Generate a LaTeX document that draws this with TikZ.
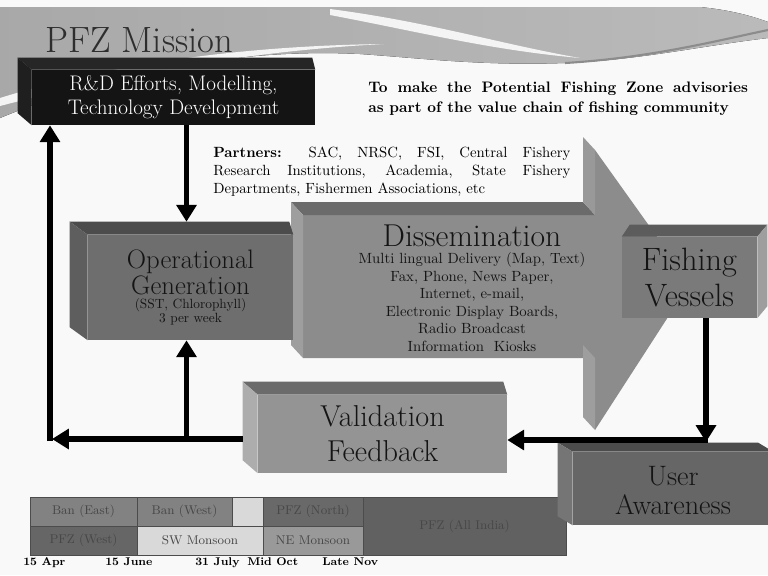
\documentclass[tikz,border=0pt]{standalone}
\usepackage{fontspec}
\usepackage{tikz,xcolor}
\usetikzlibrary{arrows.meta}

\definecolor{pagebg}{gray}{0.975}
\definecolor{swoosh}{gray}{0.70}
\newcommand\pxu{0.025cm}

\begin{document}
\begin{tikzpicture}[x=\pxu,y=-\pxu,
    front/.style={inner sep=0pt,align=center,text=black!92},
    flow/.style={line width=4.2pt,-{Triangle[width=14pt,length=12pt]}},
    cell/.style={draw=black!70,line width=0.5pt,inner sep=0pt,text=black!72,font=\fontsize{9}{10}\selectfont},
    date/.style={anchor=base west,inner sep=0pt,font=\fontsize{8}{9}\selectfont\bfseries}]
    \useasboundingbox[fill=pagebg] (0,0) rectangle (768,575);
    \fill[left color=black!34,right color=black!27] (0,7) -- (700,7) .. controls (730,10) and (752,16) .. (768,22) -- (768,38) .. controls (700,46) and (640,60) .. (565,63) .. controls (480,66) and (420,58) .. (360,54) .. controls (240,48) and (110,72) .. (0,118) -- cycle;
    \fill[white!85!swoosh] (330,9) .. controls (430,22) and (500,44) .. (580,58) .. controls (490,50) and (420,32) .. (330,15) -- cycle;
    \fill[white!85!swoosh] (0,98) .. controls (90,70) and (220,46) .. (384,44) .. controls (230,52) and (100,80) .. (0,106) -- cycle;
    \draw[black!45,line width=1.5pt] (565,63) .. controls (650,58) and (720,40) .. (768,30);
    \node[anchor=base west,inner sep=0pt,text=black!82,font=\fontsize{26}{28}\selectfont] (title) at (45,52) {PFZ Mission};
    \node[anchor=north west,inner sep=0pt,text width=270pt,align=justify,font=\fontsize{10.8}{14}\selectfont\bfseries] (mission) at (368,82) {To make the Potential Fishing Zone advisories\linebreak as part of the value chain of fishing community};
    \node[anchor=north west,inner sep=0pt,text width=254pt,align=justify,font=\fontsize{10.5}{12.8}\selectfont] (partners) at (213,147) {\textbf{Partners:} SAC, NRSC, FSI, Central Fishery\linebreak Research Institutions, Academia, State Fishery\linebreak Departments, Fishermen Associations, etc};
    % dissemination arrow
    \fill[black!45] (303,215) -- (595,215) -- (595,150) -- (690,283) -- (595,430) -- (595,358) -- (303,358) -- cycle;
    \fill[black!58] (291,202) -- (583,202) -- (595,215) -- (303,215) -- cycle;
    \fill[black!40] (583,202) -- (583,137) -- (595,150) -- (595,215) -- cycle;
    \fill[black!38] (291,202) -- (303,215) -- (303,358) -- (291,345) -- cycle;
    \fill[black!38] (583,345) -- (595,358) -- (595,430) -- (583,417) -- cycle;
    \node[front,font=\fontsize{10.5}{12.4}\selectfont] (diss) at (472,288) {{\fontsize{22.5}{24}\selectfont Dissemination}\\Multi lingual Delivery (Map, Text)\\Fax, Phone, News Paper,\\Internet, e-mail,\\Electronic Display Boards,\\Radio Broadcast\\Information~ Kiosks};
    % boxes
    \node[front,fill=black!92,text=white,minimum width=283*\pxu,minimum height=55*\pxu,font=\fontsize{15}{17}\selectfont] (rnd) at (173.5,97.5) {R\&D Efforts, Modelling,\\Technology Development};
    \fill[black!85] (rnd.north west) -- ++(-14,-12) -- ([shift={(-3,-12)}]rnd.north east) -- (rnd.north east) -- cycle;
    \fill[black!88] (rnd.north west) -- ++(-14,-12) -- ([shift={(-14,-12)}]rnd.south west) -- (rnd.south west) -- cycle;
    \node[front,fill=black!57,minimum width=205*\pxu,minimum height=105*\pxu,font=\fontsize{9.5}{10}\selectfont] (oper) at (190.5,287.5) {{\fontsize{19}{21}\selectfont Operational}\\{\fontsize{19}{21}\selectfont Generation}\\(SST, Chlorophyll)\\3 per week};
    \fill[black!70] (oper.north west) -- ++(-18,-13) -- ([shift={(-4,-13)}]oper.north east) -- (oper.north east) -- cycle;
    \fill[black!63] (oper.north west) -- ++(-18,-13) -- ([shift={(-18,-13)}]oper.south west) -- (oper.south west) -- cycle;
    \node[front,fill=black!52,minimum width=135*\pxu,minimum height=81*\pxu,font=\fontsize{23}{25}\selectfont] (fish) at (689.5,277.5) {Fishing\\Vessels};
    \fill[black!64] (fish.north west) -- ++(8,-12) -- ([shift={(10,-12)}]fish.north east) -- (fish.north east) -- cycle;
    \fill[black!38] (fish.north east) -- ++(10,-12) -- ([shift={(10,-12)}]fish.south east) -- (fish.south east) -- cycle;
    % season table
    \node[cell,fill=black!49,minimum width=107*\pxu,minimum height=29*\pxu] (banE) at (83.5,511.5) {Ban (East)};
    \node[cell,fill=black!49,minimum width=95*\pxu,minimum height=29*\pxu] (banW) at (184.5,511.5) {Ban (West)};
    \node[cell,fill=black!15,minimum width=31*\pxu,minimum height=29*\pxu] (gapN) at (247.5,511.5) {};
    \node[cell,fill=black!59,minimum width=100*\pxu,minimum height=29*\pxu] (pfzN) at (313,511.5) {PFZ (North)};
    \node[cell,fill=black!60,minimum width=107*\pxu,minimum height=29*\pxu] (pfzW) at (83.5,540.5) {PFZ (West)};
    \node[cell,fill=black!15,minimum width=126*\pxu,minimum height=29*\pxu] (swmon) at (200,540.5) {SW Monsoon};
    \node[cell,fill=black!40,minimum width=100*\pxu,minimum height=29*\pxu] (nemon) at (313,540.5) {NE Monsoon};
    \node[cell,fill=black!62,minimum width=203*\pxu,minimum height=58*\pxu] (allind) at (464.5,526) {PFZ (All India)};
    \node[date] (dApr) at (23,565) {15 Apr};
    \node[date] (dJun) at (105,565) {15 June};
    \node[date] (dJul) at (195,565) {31 July};
    \node[date] (dOct) at (247,565) {Mid Oct};
    \node[date] (dNov) at (322,565) {Late Nov};
    % feedback boxes
    \node[front,fill=black!42,minimum width=249*\pxu,minimum height=78*\pxu,font=\fontsize{21.5}{24.8}\selectfont] (valid) at (382.5,434) {Validation\\Feedback};
    \fill[black!58] (valid.north west) -- ++(-15,-13) -- ([shift={(-4,-13)}]valid.north east) -- (valid.north east) -- cycle;
    \fill[black!32] (valid.north west) -- ++(-15,-13) -- ([shift={(-15,-13)}]valid.south west) -- (valid.south west) -- cycle;
    \node[front,fill=black!60,minimum width=200*\pxu,minimum height=73*\pxu,font=\fontsize{20}{20.6}\selectfont] (user) at (673,488.5) {\rule{0pt}{16pt}User\\Awareness};
    \fill[black!70] (user.north west) -- ++(-15,-9) -- ([shift={(-15,-9)}]user.north east) -- (user.north east) -- cycle;
    \fill[black!54] (user.north west) -- ++(-15,-9) -- ([shift={(-15,-9)}]user.south west) -- (user.south west) -- cycle;
    % connectors
    \coordinate (fbL) at (52,439);
    \coordinate (fbLv) at (50,441);
    \coordinate (fbR) at (706,440);
    \coordinate (fbRh) at (708,440);
    \coordinate (fbRv) at (706,442);
    \coordinate (opIn) at ([shift={(-4,-13)}]oper.north);
    \coordinate (opOut) at ([shift={(-4,0)}]oper.south);
    \coordinate (vaOut) at ([shift={(-15,5)}]valid.west);
    \draw[flow] (opIn |- rnd.south) -- (opIn);
    \draw[flow] (vaOut) -- (fbL);
    \draw[flow] (fbLv) -- (rnd.south -| fbLv);
    \draw[flow] (opOut |- fbL) -- (opOut);
    \draw[flow] (fish.south -| fbR) -- (fbRv);
    \draw[flow] (fbRh) -- (valid.east |- fbR);
\end{tikzpicture}
\end{document}
